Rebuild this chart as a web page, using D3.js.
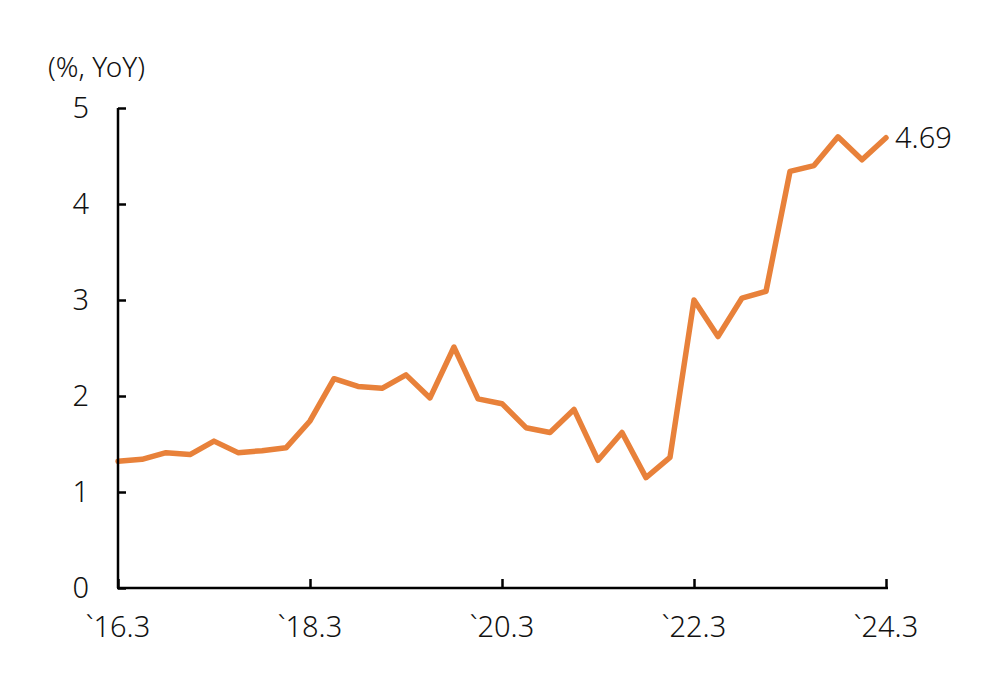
<!DOCTYPE html>
<html><head><meta charset="utf-8">
<script src="https://cdn.jsdelivr.net/npm/d3@7"></script>
<style>body{margin:0;background:#fff;} text{font-family:"Noto Sans",sans-serif;font-weight:300;fill:#111;}</style>
</head><body>
<svg id="c" width="998" height="675"></svg>
<script>
const quarters = ["16.3","16.4","17.1","17.2","17.3","17.4","18.1","18.2","18.3","18.4","19.1","19.2","19.3","19.4","20.1","20.2","20.3","20.4","21.1","21.2","21.3","21.4","22.1","22.2","22.3","22.4","23.1","23.2","23.3","23.4","24.1","24.2","24.3"];
const values = [1.32,1.34,1.41,1.39,1.53,1.41,1.43,1.46,1.74,2.18,2.10,2.08,2.22,1.98,2.51,1.97,1.92,1.67,1.62,1.86,1.33,1.62,1.15,1.36,3.00,2.62,3.02,3.09,4.34,4.40,4.70,4.46,4.69];
const xTickLabels = ["16.3","18.3","20.3","22.3","24.3"];
const yTicks = [0,1,2,3,4,5];
const unitLabel = "(%, YoY)";
const lastLabel = "4.69";

const svg = d3.select("#c");
const x = d3.scalePoint().domain(quarters).range([118,886]);
const y = d3.scaleLinear().domain([0,5]).range([588,108]);

const line = d3.line().x((d,i)=>x(quarters[i])).y(d=>y(d));
svg.append("path").datum(values).attr("d",line)
  .attr("fill","none").attr("stroke","#E8813A").attr("stroke-width",5.5)
  .attr("stroke-linejoin","round").attr("stroke-linecap","round");

const yAxis = svg.append("g").attr("transform","translate(118,0)")
  .call(d3.axisRight(y).tickValues(yTicks).tickSize(8).tickFormat(""));
yAxis.select(".domain").attr("d","M0,108V588");
yAxis.selectAll("line,path").attr("stroke","#000").attr("stroke-width",2.5);
yTicks.forEach(t=>{
  svg.append("text").attr("x",89).attr("y",y(t)).attr("dy","0.36em")
    .attr("text-anchor","end").attr("font-size",29).text(t);
});

const xAxis = svg.append("g").attr("transform","translate(0,588)")
  .call(d3.axisTop(x).tickValues(xTickLabels).tickSize(9).tickFormat(""));
xAxis.select(".domain").attr("d","M117,0H888");
xAxis.selectAll("line,path").attr("stroke","#000").attr("stroke-width",2.5);
xTickLabels.forEach(q=>{
  svg.append("text").attr("x",x(q)).attr("y",637)
    .attr("text-anchor","middle").attr("font-size",29).text("`"+q);
});

svg.append("text").attr("x",48).attr("y",77).attr("font-size",28).text(unitLabel);
svg.append("text").attr("x",x(quarters[quarters.length-1])+9).attr("y",y(values[values.length-1])).attr("dy","0.36em")
  .attr("font-size",29).text(lastLabel);
</script>
</body></html>
